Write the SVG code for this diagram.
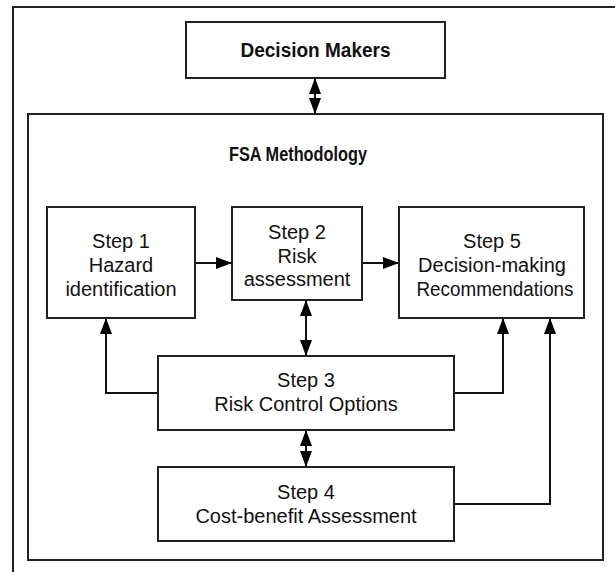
<svg xmlns="http://www.w3.org/2000/svg" width="615" height="572" viewBox="0 0 615 572">
  <style>
    .box { fill: #ffffff; stroke: #222222; stroke-width: 2; }
    .frame { fill: none; stroke: #222222; stroke-width: 2; }
    .lbl { font-family: "Liberation Sans", Arial, sans-serif; font-size: 20px; fill: #111111; text-anchor: middle; }
    .bold { font-weight: bold; font-size: 19.5px; }
    .conn { fill: none; stroke: #111111; stroke-width: 2; }
  </style>
  <defs>
    <marker id="ah" viewBox="0 0 16 12" refX="15" refY="6" markerWidth="16" markerHeight="12" markerUnits="userSpaceOnUse" orient="auto-start-reverse">
      <path d="M0,0 L16,6 L0,12 z" fill="#000000"/>
    </marker>
  </defs>
  <rect width="615" height="572" fill="#ffffff"/>
  <path class="frame" d="M13,572 V7 H615"/>

  <g id="decision-makers">
    <rect class="box" x="186" y="22" width="259" height="56"/>
    <text class="lbl bold" x="315.5" y="57" textLength="150" lengthAdjust="spacingAndGlyphs">Decision Makers</text>
  </g>

  <g id="fsa-methodology">
    <rect class="box" x="28" y="114" width="575" height="446"/>
    <text class="lbl bold" x="298" y="161" textLength="138" lengthAdjust="spacingAndGlyphs">FSA Methodology</text>
  </g>

  <g id="step1">
    <rect class="box" x="47" y="207" width="148" height="111"/>
    <text class="lbl" x="121" y="248">Step 1</text>
    <text class="lbl" x="121" y="272">Hazard</text>
    <text class="lbl" x="121" y="296">identification</text>
  </g>

  <g id="step2">
    <rect class="box" x="232" y="207" width="130" height="93"/>
    <text class="lbl" x="297" y="239">Step 2</text>
    <text class="lbl" x="297" y="263">Risk</text>
    <text class="lbl" x="297" y="286">assessment</text>
  </g>

  <g id="step5">
    <rect class="box" x="399" y="207" width="185" height="111"/>
    <text class="lbl" x="492" y="248">Step 5</text>
    <text class="lbl" x="492" y="272">Decision-making</text>
    <text class="lbl" x="495" y="296" textLength="157" lengthAdjust="spacingAndGlyphs">Recommendations</text>
  </g>

  <g id="step3">
    <rect class="box" x="158" y="356" width="296" height="74"/>
    <text class="lbl" x="306" y="387">Step 3</text>
    <text class="lbl" x="306" y="411">Risk Control Options</text>
  </g>

  <g id="step4">
    <rect class="box" x="158" y="467" width="296" height="74"/>
    <text class="lbl" x="306" y="499">Step 4</text>
    <text class="lbl" x="306" y="523">Cost-benefit Assessment</text>
  </g>

  <g id="connectors">
    <path class="conn" d="M315,79 V113" marker-start="url(#ah)" marker-end="url(#ah)"/>
    <path class="conn" d="M196,263 H231" marker-end="url(#ah)"/>
    <path class="conn" d="M363,263 H398" marker-end="url(#ah)"/>
    <path class="conn" d="M306,301 V355" marker-start="url(#ah)" marker-end="url(#ah)"/>
    <path class="conn" d="M157,393 H106 V319" marker-end="url(#ah)"/>
    <path class="conn" d="M455,393 H503 V319" marker-end="url(#ah)"/>
    <path class="conn" d="M306,431 V466" marker-start="url(#ah)" marker-end="url(#ah)"/>
    <path class="conn" d="M455,504 H550 V319" marker-end="url(#ah)"/>
  </g>
</svg>
